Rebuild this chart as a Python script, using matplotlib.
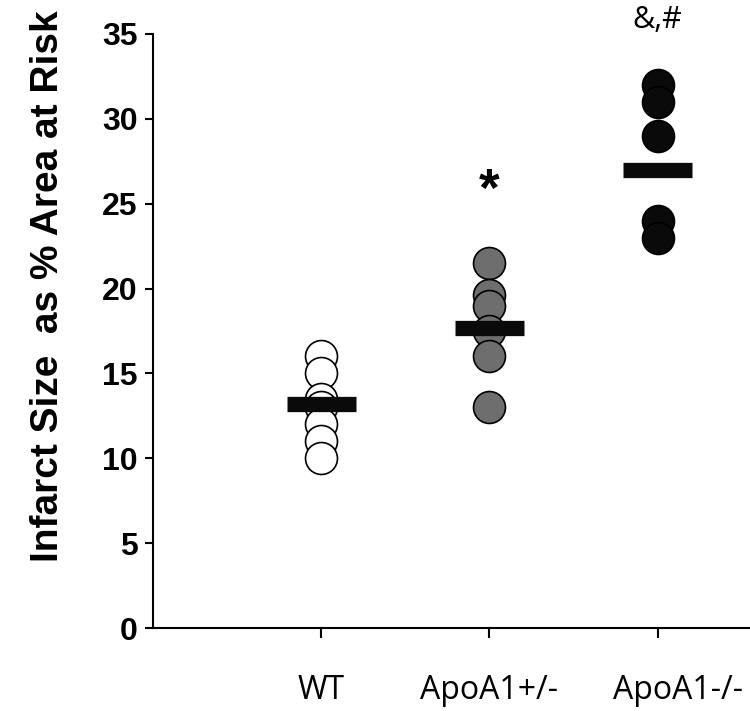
import matplotlib.pyplot as plt
from matplotlib.transforms import ScaledTranslation

groups = ["WT", "ApoA1+/-", "ApoA1-/-"]
wt = [16.0, 15.0, 13.5, 13.0, 12.0, 11.0, 10.0]
het = [21.5, 19.6, 19.0, 17.5, 16.0, 13.0]
ko = [32.0, 31.0, 29.0, 24.0, 23.0]
means = [13.2, 17.7, 27.0]
fills = ["white", "#6e6e6e", "#0a0a0a"]
marks = ["", "*", "&,#"]
mark_y = [0, 25.7, 35.8]

fig = plt.figure(figsize=(7.5, 7.11), dpi=100)
ax = fig.add_axes([0.204, 0.1167, 0.796, 0.8355])

for i, vals in enumerate([wt, het, ko]):
    x = i + 1
    ax.plot([x] * len(vals), vals, "o", ms=23, mfc=fills[i],
            mec="black", mew=1.2, zorder=2)
    ax.hlines(means[i], x - 0.205, x + 0.205, colors="#0a0a0a",
              lw=11, zorder=3)

ax.text(2, mark_y[1], marks[1], ha="center", va="center",
        fontsize=38, fontweight="bold", family="Liberation Sans")
ax.text(3, mark_y[2], marks[2], ha="center", va="center",
        fontsize=22, family="Open Sans", clip_on=False)

ax.set_xlim(0, 3.55)
ax.set_ylim(0, 35)
ax.set_yticks(range(0, 36, 5))
ax.set_xticks([1, 2, 3])
ax.set_xticklabels(groups, family="Open Sans", fontsize=23)
for lab in ax.get_yticklabels():
    lab.set_family("Liberation Sans")
    lab.set_fontweight("bold")
    lab.set_fontsize(23)

ax.spines["top"].set_visible(False)
ax.spines["right"].set_visible(False)
ax.spines["left"].set_linewidth(1.5)
ax.spines["bottom"].set_linewidth(1.5)
ax.tick_params(axis="y", direction="out", length=6, width=1.5, pad=5)
ax.tick_params(axis="x", direction="out", length=7, width=1.5, pad=26)

# last group label sits a bit right of its tick in the original
last = ax.get_xticklabels()[2]
last.set_transform(last.get_transform() +
                   ScaledTranslation(0.2, 0, fig.dpi_scale_trans))

ax.set_ylabel("Infarct Size  as % Area at Risk", fontsize=28,
              fontweight="bold", family="Liberation Sans")
ax.yaxis.set_label_coords(-0.145, 0.575)

fig.savefig("out.png", dpi=100)
